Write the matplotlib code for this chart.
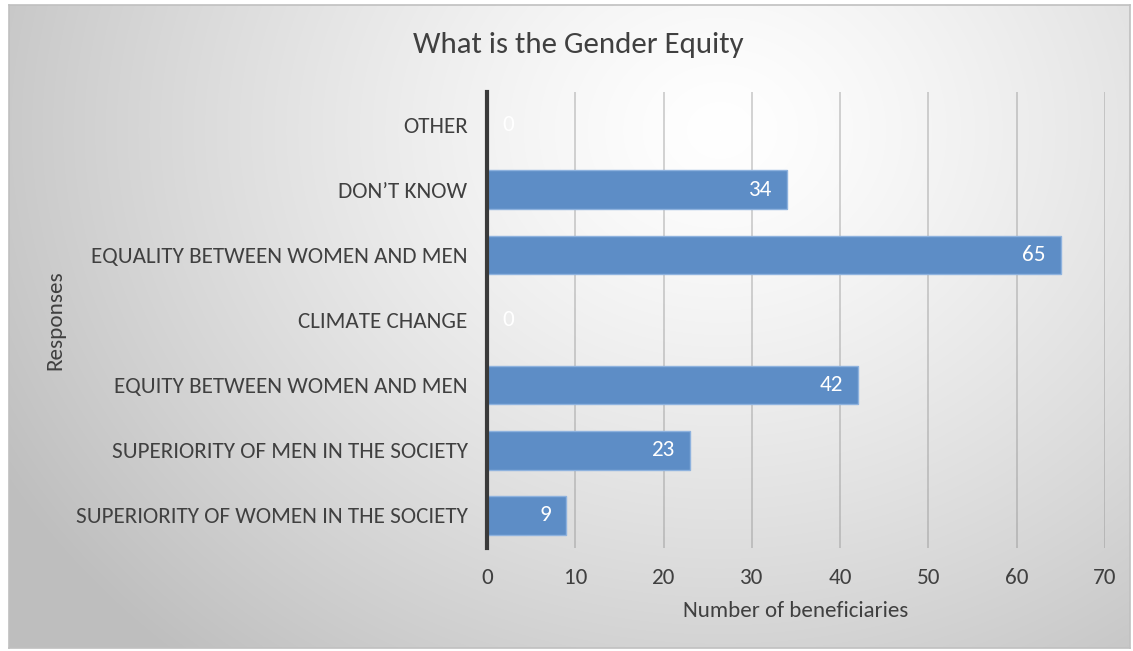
import numpy as np
import matplotlib
matplotlib.use("Agg")
import matplotlib.pyplot as plt

# ---- data ----
categories = [
    "OTHER",
    "DON\u2019T KNOW",
    "EQUALITY BETWEEN WOMEN AND MEN",
    "CLIMATE CHANGE",
    "EQUITY BETWEEN WOMEN AND MEN",
    "SUPERIORITY OF MEN IN THE SOCIETY",
    "SUPERIORITY OF WOMEN IN THE SOCIETY",
]
values = [0, 34, 65, 0, 42, 23, 9]
x_ticks = [0, 10, 20, 30, 40, 50, 60, 70]
title = "What is the Gender Equity"
x_label = "Number of beneficiaries"
y_label = "Responses"

plt.rcParams["font.family"] = ["Carlito", "DejaVu Sans"]
FS = 16.7
TXT = "#404040"

W, H = 1133, 651
fig = plt.figure(figsize=(W / 100, H / 100), dpi=100)
fig.patch.set_facecolor("white")

# ---- background frame with radial gradient ----
fx0, fy0, fx1, fy1 = 9, 5, 1130, 648
bg = fig.add_axes([fx0 / W, 1 - fy1 / H, (fx1 - fx0) / W, (fy1 - fy0) / H])
yy, xx = np.mgrid[fy0:fy1, fx0:fx1]
cx, cy = 720, 130
d = np.sqrt(((xx - cx) / 1.0) ** 2 + ((yy - cy) / 0.85) ** 2) / 760.0
d = np.clip(d, 0, 1.15)
g = 255 - 58 * d ** 1.3
g = np.clip(g, 190, 255) / 255.0
bg.imshow(np.dstack([g, g, g]), aspect="auto", extent=[0, 1, 0, 1], origin="upper")
bg.set_xticks([]); bg.set_yticks([])
for s in bg.spines.values():
    s.set_color("#c0c0c0"); s.set_linewidth(1.2)
bg.set_zorder(0)

# ---- main axes ----
ax0, ax1, ay0, ay1 = 487, 1105, 92, 548
ax = fig.add_axes([ax0 / W, 1 - ay1 / H, (ax1 - ax0) / W, (ay1 - ay0) / H])
ax.set_zorder(1)
ax.patch.set_alpha(0)

ypos = np.arange(len(categories))
ax.barh(ypos, values, height=0.59, color="#5D8DC6", edgecolor="#8EB2DE", linewidth=1.0, zorder=3)
ax.set_ylim(len(categories) - 0.5, -0.5)
ax.set_xlim(0, 70)
ax.set_xticks(x_ticks)
ax.set_yticks(ypos)
ax.set_yticklabels(categories)
ax.tick_params(axis="both", length=0, colors=TXT, labelsize=FS)
ax.tick_params(axis="y", pad=14)
ax.tick_params(axis="x", pad=14.5)
ax.grid(axis="x", color="#808080", alpha=0.4, linewidth=1.2, zorder=1)
for s in ["top", "right", "bottom"]:
    ax.spines[s].set_visible(False)
ax.spines["left"].set_color("#3a3a3a")
ax.spines["left"].set_linewidth(3)
ax.spines["left"].set_zorder(4)

for y, v in zip(ypos, values):
    if v == 0:
        ax.annotate(str(v), xy=(v, y), xytext=(11, 0), textcoords="offset points",
                    ha="left", va="center", color="white", fontsize=FS, zorder=5)
    else:
        ax.annotate(str(v), xy=(v, y), xytext=(-11, 0), textcoords="offset points",
                    ha="right", va="center", color="white", fontsize=FS, zorder=5)

ax.set_xlabel(x_label, fontsize=16.5, color=TXT, labelpad=9)
fig.text(55 / W, 1 - 320 / H, y_label, rotation=90, ha="center", va="center",
         fontsize=FS, color=TXT)
fig.text(578 / W, 1 - 45 / H, title, ha="center", va="center", fontsize=22.2, color=TXT)

fig.savefig("out.png", dpi=100)
